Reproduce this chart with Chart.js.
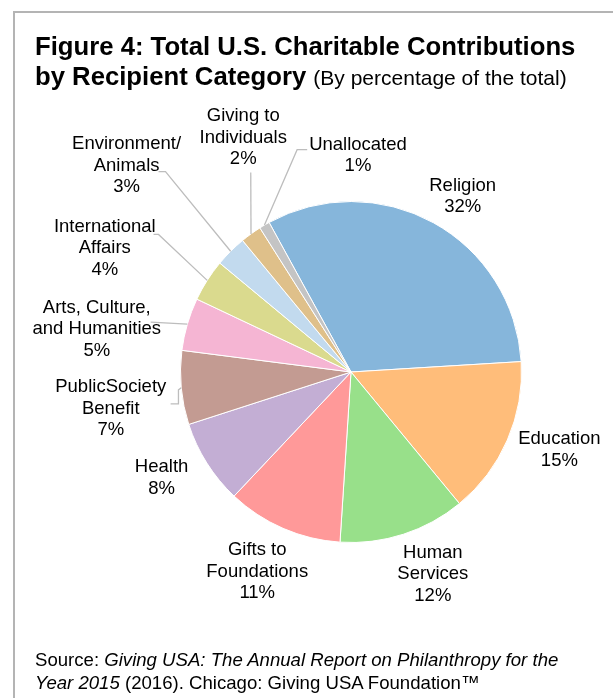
<!DOCTYPE html>
<html>
<head>
<meta charset="utf-8">
<script src="https://cdn.jsdelivr.net/npm/chart.js"></script>
<style>
  body { margin: 0; background: #fff; font-family: "Liberation Sans", Arial, sans-serif; color: #000; }
  #frame { position: absolute; left: 13px; top: 11px; width: 640px; height: 720px;
           border-top: 2px solid #b4b4b4; border-left: 2px solid #b4b4b4; }
  #title { position: absolute; left: 35px; top: 31px; font-size: 25.7px; font-weight: bold; line-height: 30px; white-space: nowrap; }
  #title span { font-weight: normal; font-size: 21px; }
  #source { position: absolute; left: 35px; top: 648px; font-size: 18.6px; line-height: 23px; white-space: nowrap; }
  #myChart { position: absolute; left: 0; top: 0; }
</style>
</head>
<body>
<div id="frame"></div>
<canvas id="myChart" width="613" height="698"></canvas>
<div id="title">Figure 4: Total U.S. Charitable Contributions<br>by Recipient Category <span>(By percentage of the total)</span></div>
<div id="source">Source: <i>Giving USA: The Annual Report on Philanthropy for the<br>Year 2015</i> (2016). Chicago: Giving USA Foundation™</div>

<script>
// categories (label lines) and percentages
const categories = [
    ['Religion'],
    ['Education'],
    ['Human', 'Services'],
    ['Gifts to', 'Foundations'],
    ['Health'],
    ['PublicSociety', 'Benefit'],
    ['Arts, Culture,', 'and Humanities'],
    ['International', 'Affairs'],
    ['Environment/', 'Animals'],
    ['Giving to', 'Individuals'],
    ['Unallocated']
];
const percentages = [32, 15, 12, 11, 8, 7, 5, 4, 3, 2, 1];

const sliceColors = [
    '#86b6db', '#ffbd7a', '#98e08a', '#ff9999', '#c3aed4', '#c39b92',
    '#f5b5d3', '#dada8e', '#c2daee', '#dfc08a', '#c4c4c4'
];

// label centres, in pie radius units from the centre (placed by hand like the original)
const labelPos = [
    [0.655, -1.029], [1.222, 0.456], [0.480, 1.187], [-0.550, 1.170],
    [-1.111, 0.620], [-1.409, 0.216], [-1.491, -0.251], [-1.444, -0.725],
    [-1.316, -1.211], [-0.632, -1.374], [0.041, -1.269]
];
// leader line bend points (radius units), starting from the slice edge
const leaders = {
    5: [[-1.012, 0.105], [-1.012, 0.187], [-1.058, 0.187]],
    6: [[-1.175, -0.292]],
    7: [[-1.129, -0.807], [-1.158, -0.807]],
    8: [[-1.088, -1.175], [-1.129, -1.175]],
    9: [[-0.588, -1.170]],
    10: [[-0.316, -1.304], [-0.257, -1.304]]
};

const outsideLabels = {
    id: 'outsideLabels',
    afterDatasetsDraw(chart) {
        const ctx = chart.ctx;
        const arcs = chart.getDatasetMeta(0).data;
        ctx.save();
        arcs.forEach((arc, i) => {
            const cx = arc.x, cy = arc.y, r = arc.outerRadius;
            const mid = (arc.startAngle + arc.endAngle) / 2;
            if (leaders[i]) {
                ctx.strokeStyle = '#bdbdbd';
                ctx.lineWidth = 1.3;
                ctx.beginPath();
                ctx.moveTo(cx + Math.cos(mid) * r, cy + Math.sin(mid) * r);
                leaders[i].forEach(p => ctx.lineTo(cx + p[0] * r, cy + p[1] * r));
                ctx.stroke();
            }
            const lines = categories[i].concat([percentages[i] + '%']);
            const lx = cx + labelPos[i][0] * r;
            const ly = cy + labelPos[i][1] * r;
            ctx.fillStyle = '#000';
            ctx.font = '18.5px "Liberation Sans", Arial, sans-serif';
            ctx.textAlign = 'center';
            ctx.textBaseline = 'middle';
            lines.forEach((t, k) => {
                ctx.fillText(t, lx, ly + (k - (lines.length - 1) / 2) * 21.5);
            });
        });
        ctx.restore();
    }
};

new Chart(document.getElementById('myChart').getContext('2d'), {
    type: 'pie',
    data: {
        labels: categories,
        datasets: [{
            data: percentages,
            backgroundColor: sliceColors,
            borderColor: '#ffffff',
            borderWidth: 1
        }]
    },
    options: {
        responsive: false,
        animation: false,
        rotation: -28.7,
        layout: { padding: { left: 180, top: 201, right: 91, bottom: 155 } },
        plugins: {
            legend: { display: false },
            tooltip: { enabled: false }
        }
    },
    plugins: [outsideLabels]
});
</script>
</body>
</html>
